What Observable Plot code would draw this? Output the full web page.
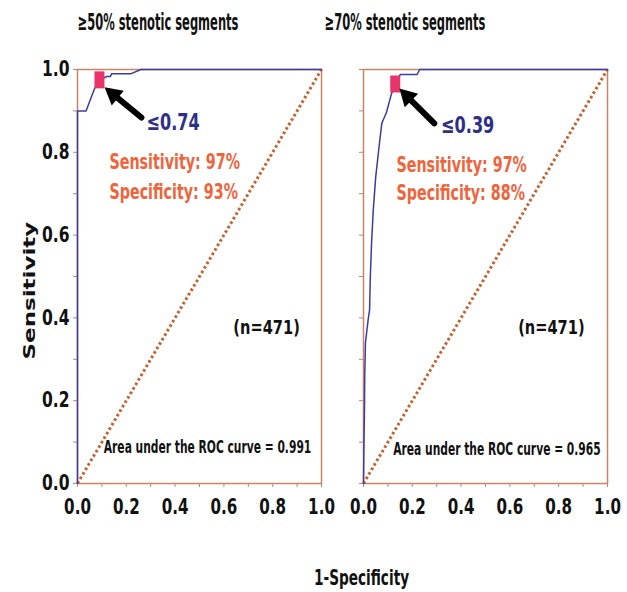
<!DOCTYPE html>
<html>
<head>
<meta charset="utf-8">
<script src="https://cdn.jsdelivr.net/npm/d3@7"></script>
<script src="https://cdn.jsdelivr.net/npm/@observablehq/plot@0.6"></script>
<style>
  html, body { margin: 0; padding: 0; background: #ffffff; }
  #chart { width: 627px; height: 592px; }
</style>
</head>
<body>
<div id="chart"></div>
<script>
// ---------- data ----------
const panels = ["≥50% stenotic segments", "≥70% stenotic segments"];

// ROC curve, ≥50% stenotic segments
const roc50Fpr = [0, 0, 0.035, 0.07, 0.09, 0.12, 0.135, 0.14, 0.22, 0.26, 1];
const roc50Tpr = [0, 0.9, 0.9, 0.954, 0.975, 0.983, 0.983, 0.99, 0.99, 1, 1];

// ROC curve, ≥70% stenotic segments
const roc70Fpr = [0, 0.002, 0.004, 0.005, 0.008, 0.02, 0.025, 0.028, 0.033, 0.04, 0.05, 0.065, 0.075, 0.094, 0.114, 0.13, 0.151, 0.22, 0.23, 1];
const roc70Tpr = [0, 0.10, 0.18, 0.26, 0.34, 0.40, 0.42, 0.50, 0.58, 0.66, 0.74, 0.82, 0.87, 0.896, 0.94, 0.965, 0.988, 0.988, 1, 1];

// chance line
const chanceLine = [0, 1];

// optimal cut-off points
const cutoffFpr = [0.09, 0.13];
const cutoffTpr = [0.975, 0.965];
const cutoffLabels = ["≤0.74", "≤0.39"];
const sensitivityTexts = ["Sensitivity: 97%", "Sensitivity: 97%"];
const specificityTexts = ["Specificity: 93%", "Specificity: 88%"];
const sampleTexts = ["(n=471)", "(n=471)"];
const aucValues = [0.991, 0.965];

// ticks
const xTicks = [0, 0.2, 0.4, 0.6, 0.8, 1.0];
const yTicks = [0, 0.2, 0.4, 0.6, 0.8, 1.0];
const minorTicks = [0, 0.1, 0.2, 0.3, 0.4, 0.5, 0.6, 0.7, 0.8, 0.9, 1.0];

// annotation placement (data units within each panel)
const titleX = [0.33, 0.17];
const cutoffLabelX = [0.283, 0.318];
const cutoffLabelY = [0.872, 0.865];
const arrowTailX = [0.262, 0.29];
const arrowTailY = [0.884, 0.87];
const arrowHeadX = [0.111, 0.147];
const arrowHeadY = [0.957, 0.954];
const statX = [0.131, 0.135];
const sensY = [0.775, 0.768];
const specY = [0.703, 0.70];
const sampleX = [0.775, 0.77];
const sampleY = [0.377, 0.377];
const aucX = [0.533, 0.547];
const aucY = [0.087, 0.082];

// ---------- build tables ----------
const rocRows = [
  ...roc50Fpr.map((f, i) => ({panel: panels[0], fpr: f, tpr: roc50Tpr[i]})),
  ...roc70Fpr.map((f, i) => ({panel: panels[1], fpr: f, tpr: roc70Tpr[i]}))
];
const chanceRows = panels.flatMap(p => chanceLine.map(v => ({panel: p, fpr: v, tpr: v})));
const info = panels.map((p, i) => ({
  panel: p,
  title: p,
  titleX: titleX[i],
  cx: cutoffFpr[i], cy: cutoffTpr[i],
  cutoff: cutoffLabels[i], lx: cutoffLabelX[i], ly: cutoffLabelY[i],
  ax1: arrowTailX[i], ay1: arrowTailY[i], ax2: arrowHeadX[i], ay2: arrowHeadY[i],
  // arrow-head orientation in screen degrees (approx. panel px per unit: 244 x, 414 y)
  rot: Math.atan2((arrowHeadX[i] - arrowTailX[i]) * 244, (arrowHeadY[i] - arrowTailY[i]) * 414) * 180 / Math.PI,
  sens: sensitivityTexts[i], spec: specificityTexts[i], sx: statX[i], sensY: sensY[i], specY: specY[i],
  n: sampleTexts[i], nx: sampleX[i], ny: sampleY[i],
  auc: `Area under the ROC curve = ${aucValues[i].toFixed(3)}`, aucX: aucX[i], aucY: aucY[i]
}));

const FONT = '"DejaVu Sans", Verdana, sans-serif';
const frameColor = "#c98563";
const tickColor = "#b58a7a";
const rocColor = "#3b3ba6";
const rectSymbol = {draw(ctx) { ctx.rect(-5, -8.5, 10, 17); }};
const headSymbol = {draw(ctx) { ctx.moveTo(0, 0); ctx.lineTo(-9.5, 17); ctx.lineTo(9.5, 17); ctx.closePath(); }};

const chart = Plot.plot({
  width: 627,
  height: 592,
  marginTop: 69,
  marginBottom: 109,
  marginLeft: 76,
  marginRight: 20,
  style: {fontFamily: FONT, fontWeight: "bold", background: "#ffffff", color: "#111"},
  fx: {domain: panels, paddingInner: 0.147, paddingOuter: 0, axis: null, label: null},
  x: {domain: [0, 1], axis: null},
  y: {domain: [0, 1], axis: null},
  marks: [
    // minor ticks
    Plot.axisX(minorTicks, {tickSize: 4, tickFormat: () => "", stroke: tickColor, label: null}),
    Plot.axisY(minorTicks, {tickSize: 4, tickFormat: () => "", stroke: tickColor, label: null, facetAnchor: null}),
    // tick labels
    Plot.axisX(xTicks, {tickSize: 0, tickPadding: 16, tickFormat: d3.format(".1f"), fontSize: 21, label: null}),
    Plot.axisY(yTicks, {tickSize: 0, tickPadding: 8, tickFormat: d3.format(".1f"), fontSize: 21, label: null}),
    Plot.frame({stroke: frameColor, strokeWidth: 1.5}),
    // chance diagonal
    Plot.line(chanceRows, {x: "fpr", y: "tpr", fx: "panel", stroke: "#c4622f", strokeWidth: 3, strokeLinecap: "butt", strokeDasharray: "2.6,2.6"}),
    // ROC
    Plot.line(rocRows, {x: "fpr", y: "tpr", fx: "panel", stroke: rocColor, strokeWidth: 1.5}),
    // cutoff marker
    Plot.dot(info, {x: "cx", y: "cy", fx: "panel", symbol: rectSymbol, fill: "#e8336b", stroke: null}),
    // arrows
    Plot.arrow(info, {x1: "ax1", y1: "ay1", x2: "ax2", y2: "ay2", fx: "panel", stroke: "#000", strokeWidth: 6, headLength: 0, insetEnd: 12}),
    Plot.dot(info, {x: "ax2", y: "ay2", fx: "panel", symbol: headSymbol, rotate: "rot", fill: "#000", stroke: null}),
    // titles
    Plot.text(info, {x: "titleX", fx: "panel", text: "title", frameAnchor: "top", lineAnchor: "middle", dy: -47, fontSize: 23, fill: "#111", ariaDescription: "sq-title"}),
    // cutoff labels
    Plot.text(info, {x: "lx", y: "ly", fx: "panel", text: "cutoff", textAnchor: "start", fontSize: 23, fill: "#2e2f86", ariaDescription: "sq-cutoff"}),
    Plot.text(info, {x: "sx", y: "sensY", fx: "panel", text: "sens", textAnchor: "start", fontSize: 21, fill: "#f0643c", ariaDescription: "sq-stat"}),
    Plot.text(info, {x: "sx", y: "specY", fx: "panel", text: "spec", textAnchor: "start", fontSize: 21, fill: "#f0643c", ariaDescription: "sq-stat"}),
    Plot.text(info, {x: "nx", y: "ny", fx: "panel", text: "n", fontSize: 20, fill: "#111", ariaDescription: "sq-n"}),
    Plot.text(info, {x: "aucX", y: "aucY", fx: "panel", text: "auc", fontSize: 17, fill: "#111", ariaDescription: "sq-auc"}),
    // axis titles
    Plot.text([panels[0]], {fx: d => d, text: ["Sensitivity"], frameAnchor: "left", textAnchor: "middle", lineAnchor: "middle", y: [0.466], dx: -48, rotate: -90, fontSize: 23, fill: "#111", ariaDescription: "y-title"}),
    Plot.text([panels[0]], {fx: d => d, text: ["1-Specificity"], frameAnchor: "bottom", textAnchor: "middle", lineAnchor: "middle", x: [1.164], dy: 95, fontSize: 21, fill: "#111", ariaDescription: "sq-xtitle"})
  ]
});
document.getElementById("chart").appendChild(chart);

// horizontal condensing of the bold, Verdana-like lettering, as in the source figure
function texts(key) {
  return chart.querySelectorAll(`g[aria-description="${key}"] text, g[aria-label="${key}"] text`);
}
const squeeze = {
  "sq-title": 0.50, "sq-cutoff": 0.70, "sq-stat": 0.68, "sq-n": 0.73, "sq-auc": 0.63, "sq-xtitle": 0.65,
  "x-axis tick label": 0.72, "y-axis tick label": 0.74
};
for (const [key, f] of Object.entries(squeeze)) {
  texts(key).forEach(t => {
    const w = t.getComputedTextLength();
    if (w > 0) {
      t.setAttribute("textLength", (w * f).toFixed(1));
      t.setAttribute("lengthAdjust", "spacingAndGlyphs");
    }
  });
}
texts("y-title").forEach(t => {
  const tr = t.getAttribute("transform") || "";
  if (tr.includes("rotate(")) t.setAttribute("transform", tr.replace("rotate(", "scale(0.7,1) rotate("));
});
</script>
</body>
</html>
